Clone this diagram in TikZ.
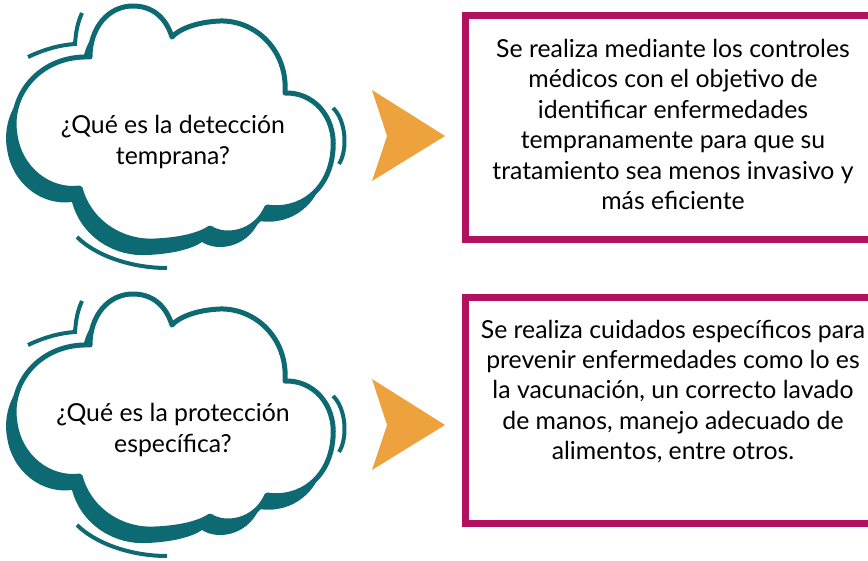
\documentclass[tikz,border=0pt]{standalone}
\usepackage{fontspec}
\setmainfont{Lato}
\usepackage{xcolor}
\usetikzlibrary{positioning,calc}
\definecolor{cloudteal}{HTML}{0E6A72}
\definecolor{boxmagenta}{HTML}{B0125F}
\definecolor{chevronorange}{HTML}{EEA23E}
\tikzset{
	cloudline/.style={draw=cloudteal, line width=2.5pt, fill=white, line join=round},
	cloudshadow/.style={fill=cloudteal},
	swoosh/.style={draw=cloudteal, line width=2pt},
	question/.style={align=center, font=\fontsize{12.4}{15.2}\selectfont},
	infobox/.style={draw=boxmagenta, line width=3.5pt, fill=white, minimum width=208pt},
	infotext/.style={align=center, font=\fontsize{12.4}{15.2}\selectfont},
	chevron/.style={fill=chevronorange}
}
% cloud outline, in pixels of the top cloud
\newcommand{\cloudoutline}{(90,57) .. controls (40,55) and (8,95) .. (15,135)
	.. controls (20,170) and (50,192) .. (80,188)
	.. controls (90,225) and (125,243) .. (155,241)
	.. controls (180,240) and (200,235) .. (210,228)
	.. controls (225,238) and (255,234) .. (267,207)
	.. controls (300,212) and (330,190) .. (333,150)
	.. controls (336,115) and (312,92) .. (285,93)
	.. controls (288,50) and (255,20) .. (220,21)
	.. controls (195,22) and (178,30) .. (172,37)
	.. controls (165,15) and (150,6) .. (133,6)
	.. controls (108,6) and (90,28) .. (90,57) -- cycle}
\newcommand{\questioncloud}[3]{%
	\begin{scope}[shift={(0,#1)}]
		\path[cloudshadow, shift={(-8,14)}] \cloudoutline;
		\path[cloudline] \cloudoutline;
		\draw[swoosh] (28,57) .. controls (45,49) and (60,45) .. (75,44)
		.. controls (76,30) and (78,22) .. (82,13);
		\draw[swoosh] (333,108) .. controls (346,120) and (348,150) .. (339,164);
		\draw[swoosh] (77,237) .. controls (95,255) and (130,268) .. (167,268);
		\node[question] (#2) at (173,142) {#3};
	\end{scope}}

\begin{document}
\begin{tikzpicture}[x=0.5pt, y=-0.5pt]
	\useasboundingbox (0,0) rectangle (868,561);
	\clip (0,0) rectangle (868,561);
	
	%% -- Question clouds (left column)
	\questioncloud{0}{q1}{¿Qué es la detección\\temprana?}
	\questioncloud{288}{q2}{¿Qué es la protección\\específica?}
	
	%% -- Orange chevrons
	\fill[chevron] (372,90) -- (445,136) -- (372,181) -- (387,136) -- cycle;
	\fill[chevron] (372,379) -- (445,425) -- (372,470) -- (387,425) -- cycle;
	
	%% -- Answer boxes (right column, cut at the page edge)
	\node[infobox, minimum height=112pt] (b1) at (673,127.5) {};
	\node[infotext, yshift=1.5pt] (t1) at (b1.center)
	{Se realiza mediante los controles\\
		médicos con el objetivo de\\
		identificar enfermedades\\
		tempranamente para que su\\
		tratamiento sea menos invasivo y\\
		más eficiente};
	
	\node[infobox, minimum height=113pt] (b2) at (673,410.5) {};
	\node[infotext, yshift=9.5pt] (t2) at (b2.center)
	{Se realiza cuidados específicos para\\
		prevenir enfermedades como lo es\\
		la vacunación, un correcto lavado\\
		de manos, manejo adecuado de\\
		alimentos, entre otros.};
	
\end{tikzpicture}
\end{document}
